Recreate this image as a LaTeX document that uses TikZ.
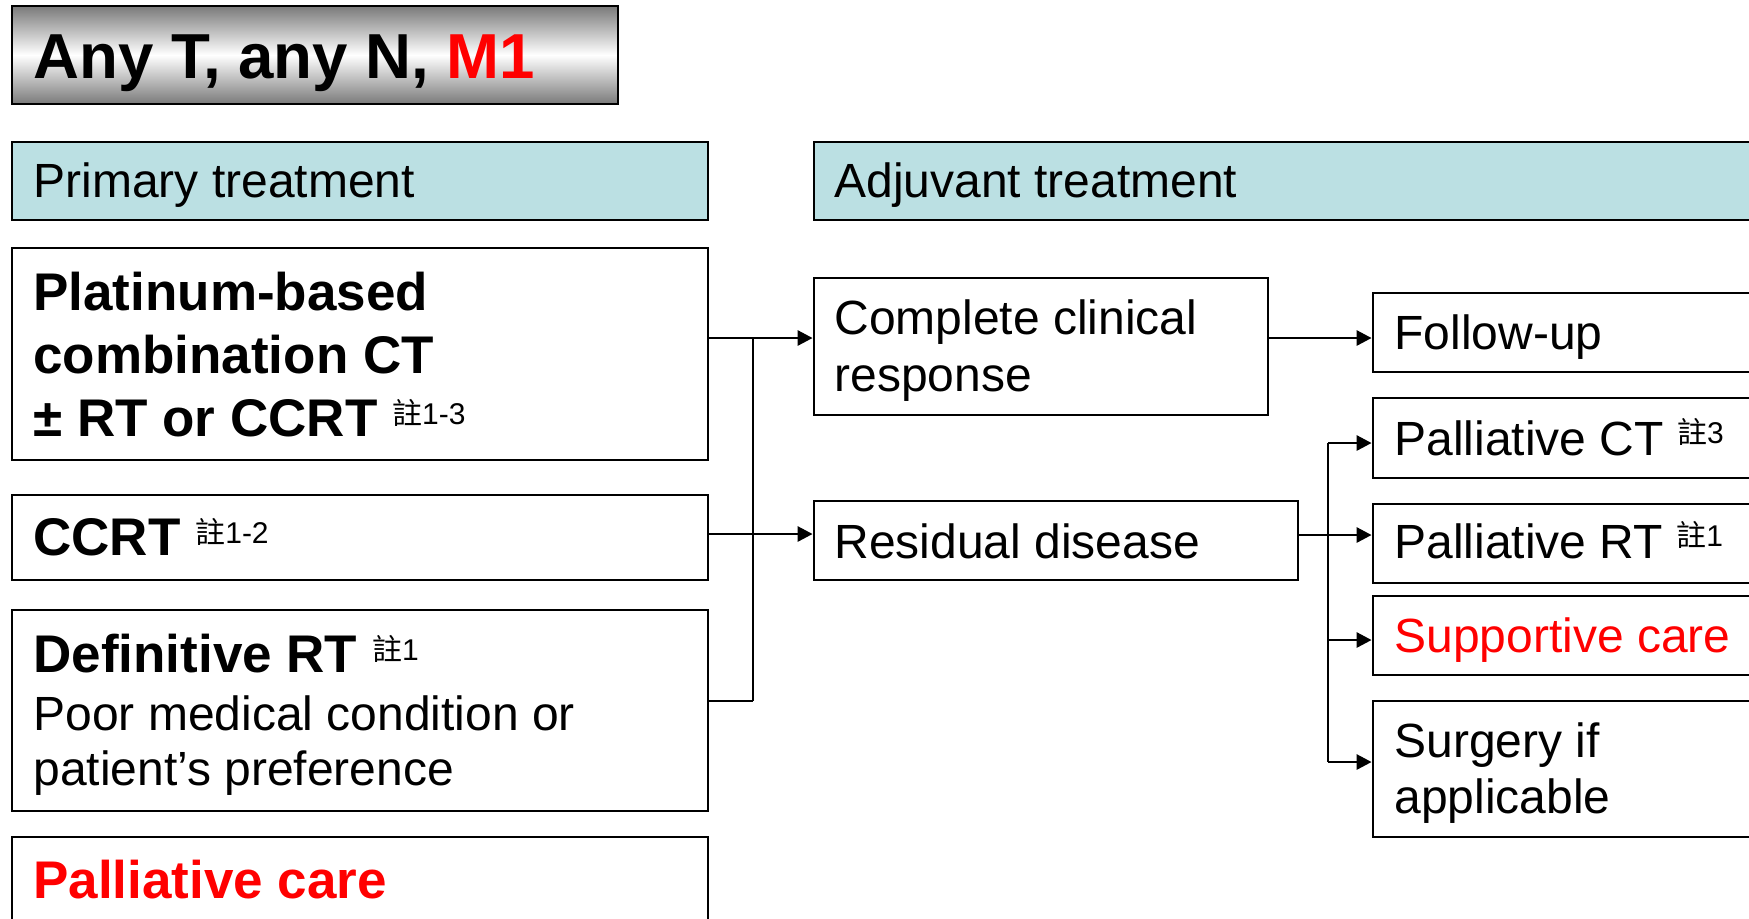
\documentclass[tikz,border=0pt]{standalone}
\usepackage{fontspec}
\setmainfont{Liberation Sans}
\newfontfamily\cjk{Noto Sans CJK TC}
\usetikzlibrary{arrows.meta,fit}
\definecolor{hdrblue}{HTML}{BBE0E3}
\definecolor{tgray}{HTML}{7A7A7A}
\definecolor{myred}{HTML}{FF0000}
\newcommand{\zhu}[1]{\raisebox{6pt}{\fontsize{15pt}{15pt}\selectfont\mdseries{\cjk 註}#1}}
\begin{document}
\begin{tikzpicture}[x=0.5pt, y=-0.5pt,
  box/.style={draw=black, line width=1.4pt, inner sep=0pt, fill=white},
  hdr/.style={box, fill=hdrblue},
  txt/.style={anchor=base west, inner sep=0pt, font=\fontsize{24pt}{28pt}\selectfont},
  btxt/.style={anchor=base west, inner sep=0pt, font=\fontsize{26.5pt}{30pt}\selectfont\bfseries},
  conn/.style={line width=1.4pt},
  arr/.style={conn, -{Triangle[length=7.5pt,width=7.5pt]}}]
\useasboundingbox (0,0) rectangle (1749,918);
\clip (0,0) rectangle (1749,918);

% title
\node[box, fit={(12,6)(618,104)}, top color=tgray, bottom color=tgray, middle color=white] (title) {};
\node[anchor=base west, inner sep=0pt, font=\fontsize{31.8pt}{34pt}\selectfont\bfseries] (titleT) at (33,78) {Any T, any N, \textcolor{myred}{M1}};

% headers
\node[hdr, fit={(12,142)(708,220)}] (hprim) {};
\node[txt] (hprimT) at (33,197) {Primary treatment};
\node[hdr, fit={(814,142)(1770,220)}] (hadj) {};
\node[txt] (hadjT) at (834,197) {Adjuvant treatment};

% primary boxes
\node[box, fit={(12,248)(708,460)}] (plat) {};
\node[btxt] (platT1) at (33,310) {Platinum-based};
\node[btxt] (platT2) at (33,373) {combination CT};
\node[btxt] (platT3) at (33,436) {± RT or CCRT \zhu{1-3}};

\node[box, fit={(12,495)(708,580)}] (ccrt) {};
\node[btxt] (ccrtT) at (33,555) {CCRT \zhu{1-2}};

\node[box, fit={(12,610)(708,811)}] (defrt) {};
\node[btxt] (defrtT1) at (33,672) {Definitive RT \zhu{1}};
\node[txt] (defrtT2) at (33,730) {Poor medical condition or};
\node[txt] (defrtT3) at (33,785) {patient’s preference};

\node[box, fit={(12,837)(708,940)}] (pal) {};
\node[btxt, text=myred] (palT) at (33,898) {Palliative care};

% adjuvant boxes
\node[box, fit={(814,278)(1268,415)}] (cc) {};
\node[txt] (ccT1) at (834,334) {Complete clinical};
\node[txt] (ccT2) at (834,391) {response};

\node[box, fit={(814,501)(1298,580)}] (res) {};
\node[txt] (resT) at (834,558) {Residual disease};

\node[box, fit={(1373,293)(1770,372)}] (fu) {};
\node[txt] (fuT) at (1394,349) {Follow-up};

\node[box, fit={(1373,398)(1770,478)}] (pct) {};
\node[txt] (pctT) at (1394,455) {Palliative CT \zhu{3}};

\node[box, fit={(1373,504)(1770,583)}] (prt) {};
\node[txt] (prtT) at (1394,558) {Palliative RT \zhu{1}};

\node[box, fit={(1373,596)(1770,675)}] (sup) {};
\node[txt, text=myred] (supT) at (1394,652) {Supportive care};

\node[box, fit={(1373,701)(1770,837)}] (surg) {};
\node[txt] (surgT1) at (1394,757) {Surgery if};
\node[txt] (surgT2) at (1394,813) {applicable};

% connectors
\coordinate (j1) at (753,338);
\coordinate (j2) at (753,534);
\coordinate (j3) at (753,701);
\draw[conn] (j1) -- (j3);
\draw[arr] (plat.east |- j1) -- (cc.west |- j1);
\draw[arr] (ccrt.east |- j2) -- (res.west |- j2);
\draw[conn] (defrt.east |- j3) -- (j3);

\coordinate (k1) at (1300,338);
\draw[arr] (cc.east |- k1) -- (fu.west |- k1);

\coordinate (b0) at (1328,535);
\coordinate (b1) at (1328,443);
\coordinate (b2) at (1328,640);
\coordinate (b3) at (1328,762);
\draw[arr] (res.east |- b0) -- (prt.west |- b0);
\draw[conn] (b1) -- (b3);
\draw[arr] (b1) -- (pct.west |- b1);
\draw[arr] (b2) -- (sup.west |- b2);
\draw[arr] (b3) -- (surg.west |- b3);
\end{tikzpicture}
\end{document}
